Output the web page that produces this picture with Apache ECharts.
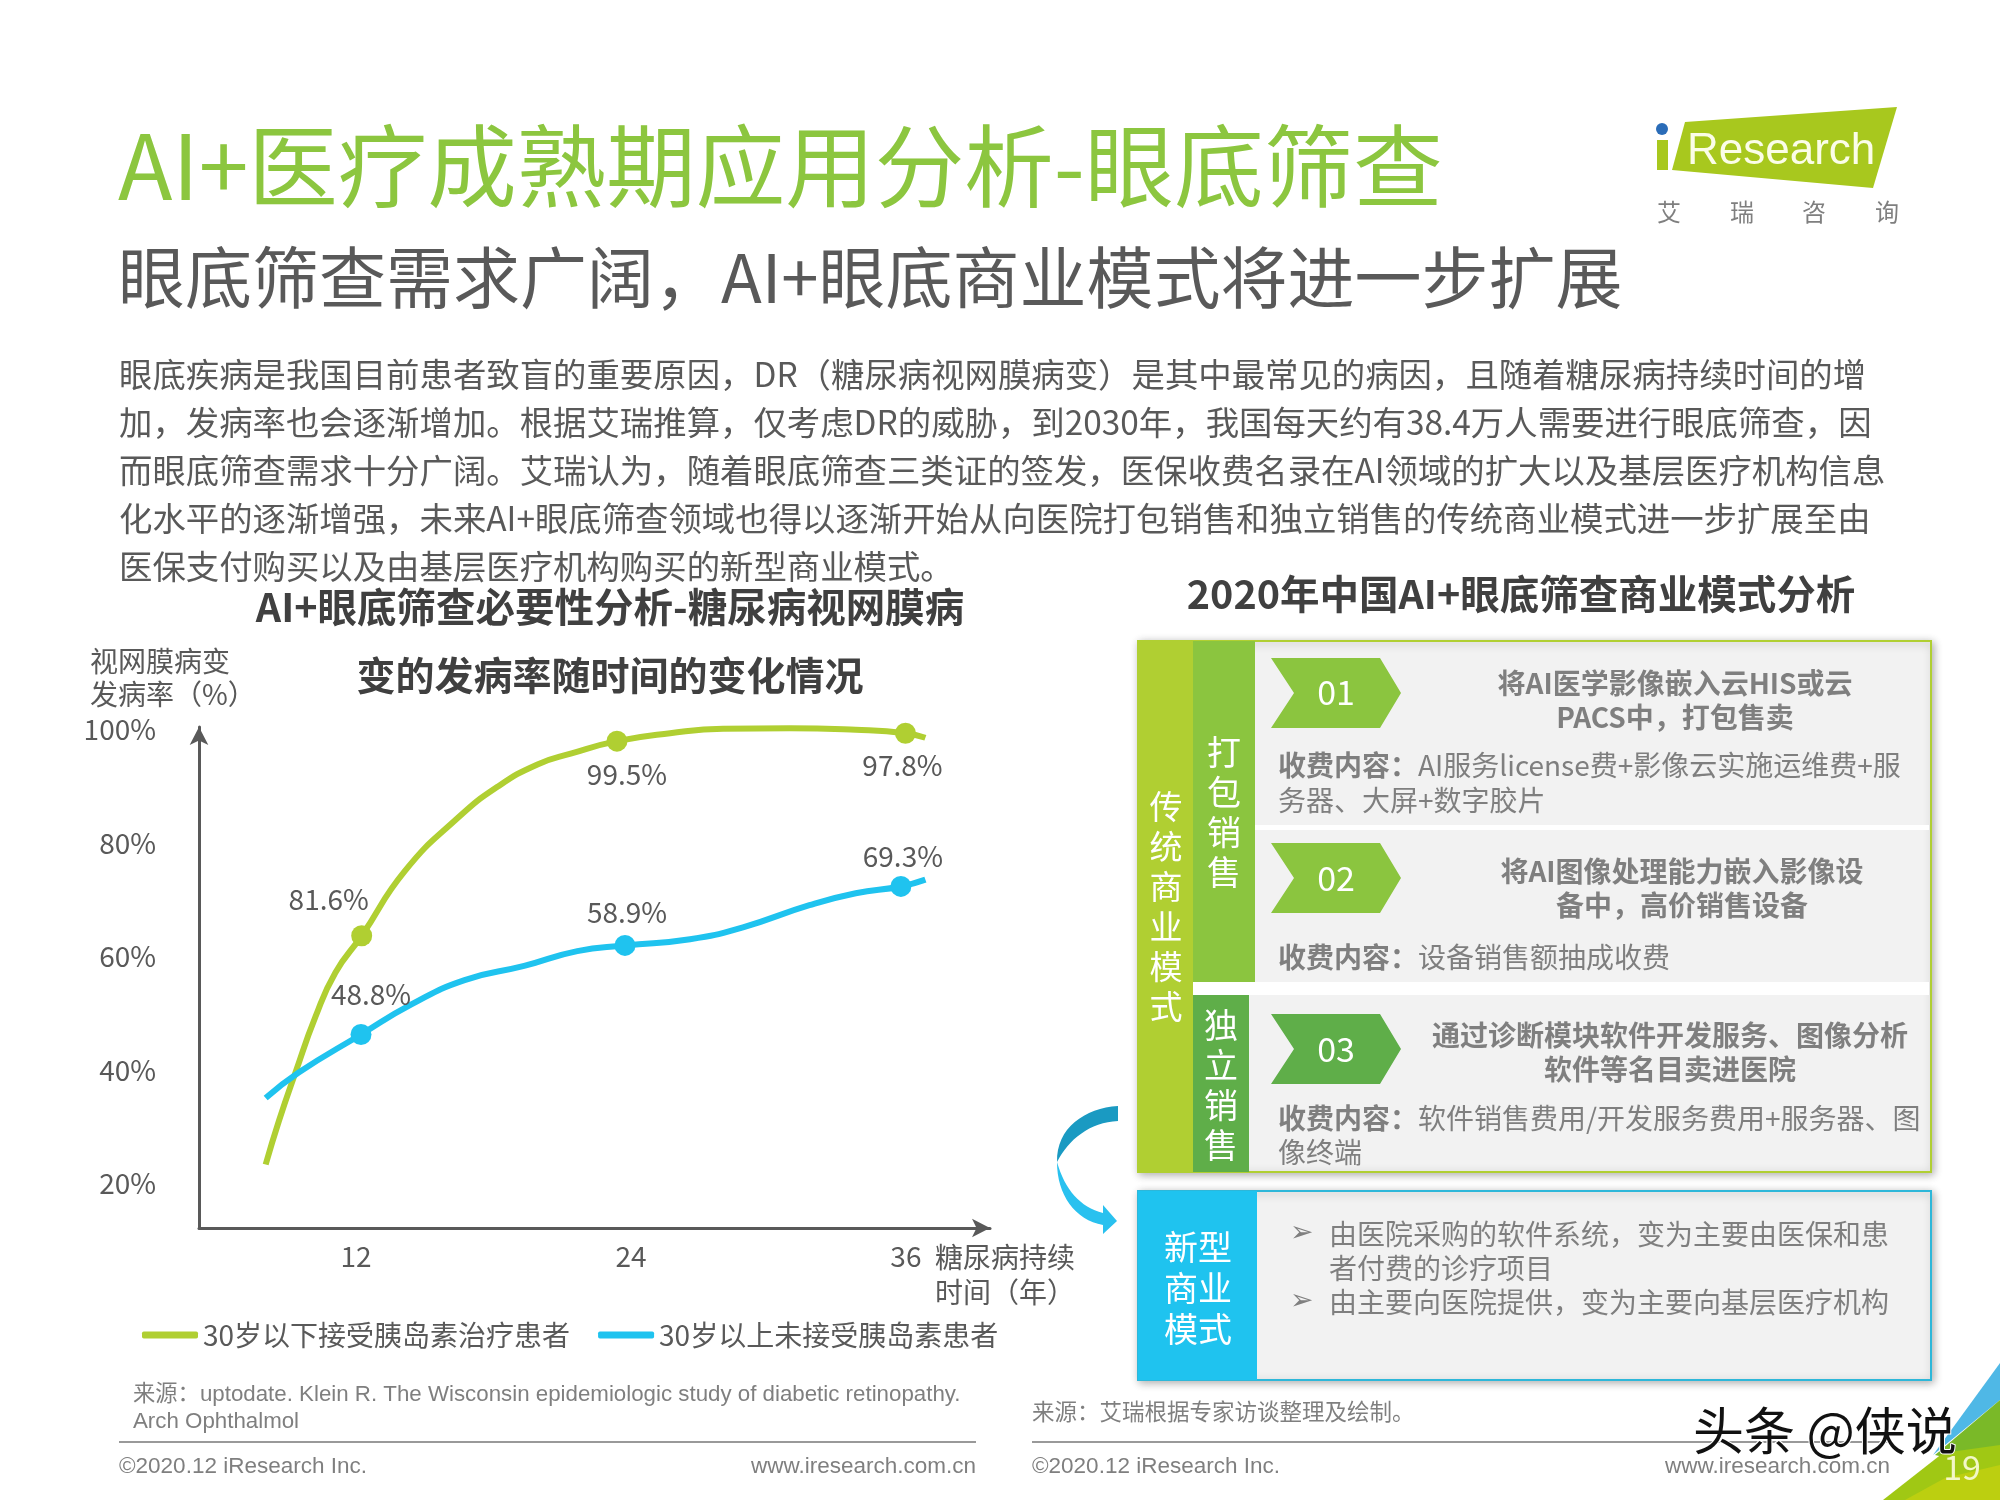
<!DOCTYPE html>
<html>
<head>
<meta charset="utf-8">
<script src="https://cdn.jsdelivr.net/npm/echarts@6/dist/echarts.min.js"></script>
<style>
html, body { margin: 0; padding: 0; background: #fff; }
#main { width: 2000px; height: 1500px; }
</style>
</head>
<body>
<div id="main"></div>
<script>
// curve; y follows the drawn axis, the printed labels are separate
const xTicks = [12, 24, 36];
const yTicks = [20, 40, 60, 80, 100];
const seriesNames = ['30岁以下接受胰岛素治疗患者', '30岁以上未接受胰岛素患者'];

const greenMonths = [8.06, 8.64, 9.36, 10.23, 11.1, 12.25, 14.13, 16.45, 18.19, 19.92, 21.37, 23.39, 25.71, 28.02, 30.92, 33.81, 35.98, 36.85];
const greenRates = [23.4, 31.1, 39.6, 49.4, 57.2, 63.7, 75.1, 84.5, 90.0, 93.9, 95.8, 98.0, 99.4, 100.2, 100.3, 100.0, 99.4, 98.6];
const greenMarkers = [5, 11, 16];
const greenLabels = ['81.6%', '99.5%', '97.8%'];

const blueMonths = [8.06, 9.5, 12.22, 14.42, 16.74, 19.34, 21.66, 23.74, 26.58, 28.89, 31.79, 33.81, 35.78, 36.85];
const blueRates = [35.1, 39.6, 46.3, 51.6, 55.9, 58.4, 61.0, 62.0, 63.1, 65.2, 69.1, 71.2, 72.4, 73.6];
const blueMarkers = [2, 7, 12];
const blueLabels = ['48.8%', '58.9%', '69.3%'];

const bodyLines = [
  '眼底疾病是我国目前患者致盲的重要原因，DR（糖尿病视网膜病变）是其中最常见的病因，且随着糖尿病持续时间的增',
  '加，发病率也会逐渐增加。根据艾瑞推算，仅考虑DR的威胁，到2030年，我国每天约有38.4万人需要进行眼底筛查，因',
  '而眼底筛查需求十分广阔。艾瑞认为，随着眼底筛查三类证的签发，医保收费名录在AI领域的扩大以及基层医疗机构信息',
  '化水平的逐渐增强，未来AI+眼底筛查领域也得以逐渐开始从向医院打包销售和独立销售的传统商业模式进一步扩展至由',
  '医保支付购买以及由基层医疗机构购买的新型商业模式。'
];

const GREEN = '#b0cf32', BLUE = '#1fc3ef', GREY = '#595959', SOFT = '#7f7f7f';
const CJK = '"Noto Sans CJK SC", "Noto Sans", sans-serif';
const ARIAL = '"Liberation Sans", Arial, sans-serif';

function pts(months, rates, markers, labels, offsets) {
  return months.map((m, i) => {
    const k = markers.indexOf(i);
    if (k < 0) return { value: [m, rates[i]], symbol: 'none' };
    return {
      value: [m, rates[i]],
      symbol: 'circle',
      symbolSize: 21,
      label: { show: true, position: 'inside', formatter: labels[k], offset: offsets[k], color: GREY, fontSize: 28, fontFamily: CJK }
    };
  });
}

function txt(x, y, text, size, fill, extra) {
  return {
    type: 'text',
    z: 20,
    style: Object.assign({ x, y, text, fontSize: size, fill, fontFamily: CJK, textAlign: 'left', textVerticalAlign: 'middle', verticalAlign: 'middle' }, extra || {})
  };
}
function box(x, y, w, h, fill, extra) {
  return Object.assign({ type: 'rect', z: 5, shape: { x, y, width: w, height: h }, style: { fill } }, extra || {});
}
function poly(points, fill, z) {
  return { type: 'polygon', z: z || 6, shape: { points }, style: { fill } };
}
function chevron(y, fill) {
  return poly([[1271, y], [1380, y], [1401, y + 35], [1380, y + 70], [1271, y + 70], [1294, y + 35]], fill);
}
function fee(y, s) {
  return txt(1278, y, '{b|收费内容：}' + s, 28, SOFT, {
    rich: { b: { fontWeight: 'bold', fontSize: 28, fill: SOFT, fontFamily: CJK } }
  });
}
function column(x, y, s, size, gap) {
  return txt(x, y, s.split('').join('\n'), size, '#fff', { textAlign: 'center', lineHeight: gap });
}
// outline of the curved arrow band, walked along one cubic
function curve(p0, p1, p2, p3) {
  const out = [];
  for (let i = 0; i <= 16; i++) {
    const t = i / 16, u = 1 - t;
    out.push([
      u * u * u * p0[0] + 3 * u * u * t * p1[0] + 3 * u * t * t * p2[0] + t * t * t * p3[0],
      u * u * u * p0[1] + 3 * u * u * t * p1[1] + 3 * u * t * t * p2[1] + t * t * t * p3[1]
    ]);
  }
  return out;
}

const mid = { textAlign: 'center' };
const midBold = { textAlign: 'center', fontWeight: 'bold' };

const arrowTop = curve([1118, 1106], [1085, 1108], [1056, 1128], [1057, 1162])
  .concat(curve([1057, 1162], [1068, 1140], [1090, 1122], [1118, 1121]));
const arrowLow = curve([1057, 1162], [1057, 1195], [1075, 1220], [1103, 1225])
  .concat([[1103, 1234], [1117, 1221], [1103, 1205]])
  .concat(curve([1103, 1213], [1080, 1207], [1065, 1190], [1057, 1162]));

const graphics = [
  // heading
  txt(118, 166, 'AI+医疗成熟期应用分析-眼底筛查', 89.5, '#8cc63f'),
  txt(118, 278, '眼底筛查需求广阔，AI+眼底商业模式将进一步扩展', 67, GREY),
  // logo
  poly([[1685, 122], [1897, 107], [1873, 188], [1672, 170]], '#a8c81e'),
  box(1657, 140, 11, 30, '#a8c81e'),
  { type: 'circle', z: 6, shape: { cx: 1662, cy: 129, r: 6 }, style: { fill: '#2a6cb8' } },
  txt(1687, 152, 'Research', 44, '#fbfde8', { fontFamily: ARIAL }),
  txt(1669, 212, '艾', 24, SOFT, mid), txt(1742, 212, '瑞', 24, SOFT, mid),
  txt(1814, 212, '咨', 24, SOFT, mid), txt(1887, 212, '询', 24, SOFT, mid),
  // left chart titles
  txt(610, 607, 'AI+眼底筛查必要性分析-糖尿病视网膜病', 39.5, '#404040', midBold),
  txt(610, 675, '变的发病率随时间的变化情况', 39, '#404040', midBold),
  txt(90, 661, '视网膜病变', 28, GREY),
  txt(90, 694, '发病率（%）', 28, GREY),
  // right panel
  txt(1521, 594, '2020年中国AI+眼底筛查商业模式分析', 39.5, '#404040', midBold),
  box(1138, 641, 793, 531, '#f2f2f2', { style: { fill: '#f2f2f2', stroke: '#b0cf32', lineWidth: 2, shadowBlur: 8, shadowColor: 'rgba(0,0,0,0.3)', shadowOffsetX: 2, shadowOffsetY: 2 } }),
  box(1138, 641, 55, 531, GREEN),
  box(1193, 641, 62, 341, '#8bc53f'),
  box(1193, 982, 736, 13, '#fff'),
  box(1193, 995, 56, 177, '#5fae49'),
  box(1255, 825, 674, 5, '#fff'),
  chevron(658, '#8bc53f'), chevron(843, '#8bc53f'), chevron(1014, '#5fae49'),
  txt(1336, 692, '01', 34, '#fff', mid), txt(1336, 878, '02', 34, '#fff', mid), txt(1336, 1049, '03', 34, '#fff', mid),
  column(1166, 906, '传统商业模式', 33, 40),
  column(1224, 812, '打包销售', 34, 40),
  column(1221, 1085, '独立销售', 34, 40),
  txt(1675, 683, '将AI医学影像嵌入云HIS或云', 28, SOFT, midBold),
  txt(1675, 717, 'PACS中，打包售卖', 28, SOFT, midBold),
  fee(765, 'AI服务license费+影像云实施运维费+服'),
  txt(1278, 800, '务器、大屏+数字胶片', 28, SOFT),
  txt(1682, 871, '将AI图像处理能力嵌入影像设', 28, SOFT, midBold),
  txt(1682, 905, '备中，高价销售设备', 28, SOFT, midBold),
  fee(957, '设备销售额抽成收费'),
  txt(1670, 1035, '通过诊断模块软件开发服务、图像分析', 28, SOFT, midBold),
  txt(1670, 1069, '软件等名目卖进医院', 28, SOFT, midBold),
  fee(1118, '软件销售费用/开发服务费用+服务器、图'),
  txt(1278, 1152, '像终端', 28, SOFT),
  // new model box
  box(1138, 1191, 793, 189, '#f2f2f2', { style: { fill: '#f2f2f2', stroke: '#2db7d9', lineWidth: 2, shadowBlur: 8, shadowColor: 'rgba(0,0,0,0.3)', shadowOffsetX: 2, shadowOffsetY: 2 } }),
  box(1138, 1191, 119, 189, BLUE),
  txt(1198, 1288, '新型\n商业\n模式', 34, '#fff', { textAlign: 'center', lineHeight: 41 }),
  txt(1290, 1234, '➢', 28, SOFT, { fontFamily: '"DejaVu Sans"' }),
  txt(1329, 1234, '由医院采购的软件系统，变为主要由医保和患', 28, SOFT),
  txt(1329, 1268, '者付费的诊疗项目', 28, SOFT),
  txt(1290, 1302, '➢', 28, SOFT, { fontFamily: '"DejaVu Sans"' }),
  txt(1329, 1302, '由主要向医院提供，变为主要向基层医疗机构', 28, SOFT),
  // curved arrow
  poly(arrowTop, '#1a9ac2'),
  poly(arrowLow, '#29c1ef'),
  // sources and footers
  txt(133, 1395, '来源：uptodate. Klein R. The Wisconsin epidemiologic study of diabetic retinopathy.', 22.3, SOFT, { fontFamily: ARIAL + ', ' + CJK }),
  txt(133, 1422, 'Arch Ophthalmol', 22.3, SOFT, { fontFamily: ARIAL }),
  txt(1032, 1411, '来源：艾瑞根据专家访谈整理及绘制。', 22.5, SOFT),
  box(119, 1441, 857, 2, '#999'),
  box(1032, 1441, 860, 2, '#999'),
  txt(119, 1467, '©2020.12 iResearch Inc.', 22.5, SOFT, { fontFamily: ARIAL }),
  txt(976, 1467, 'www.iresearch.com.cn', 22.5, SOFT, { fontFamily: ARIAL, textAlign: 'right' }),
  txt(1032, 1467, '©2020.12 iResearch Inc.', 22.5, SOFT, { fontFamily: ARIAL }),
  txt(1890, 1467, 'www.iresearch.com.cn', 22.5, SOFT, { fontFamily: ARIAL, textAlign: 'right' }),
  // corner
  poly([[2000, 1363], [1933, 1455], [2000, 1400]], '#4fb8e6'),
  poly([[2000, 1400], [1935, 1455], [2000, 1470]], '#7ab928'),
  poly([[1883, 1500], [1943, 1453], [2000, 1445], [2000, 1500]], '#a0c814'),
  poly([[1905, 1500], [1945, 1478], [2000, 1465], [2000, 1500]], '#bccf10'),
  txt(1962, 1467, '19', 34, '#f2f7c8', mid),
  // watermark
  Object.assign(txt(1693, 1431, '头条 @侠说', 51, '#111', { stroke: '#fff', lineWidth: 2 }), { z: 30 })
];

bodyLines.forEach((line, i) => {
  graphics.push(txt(119, 374 + i * 48, line, 33.4, GREY));
});

const chart = echarts.init(document.getElementById('main'), null, { renderer: 'canvas' });
chart.setOption({
  animation: false,
  backgroundColor: '#fff',
  textStyle: { fontFamily: CJK },
  grid: { left: 199, right: 1010, top: 727, bottom: 272 },
  legend: {
    left: 137,
    top: 1316,
    icon: 'roundRect',
    itemWidth: 56,
    itemHeight: 7,
    itemGap: 28,
    textStyle: { fontSize: 28, color: GREY, fontFamily: CJK },
    data: seriesNames
  },
  xAxis: {
    type: 'value',
    min: 5.15,
    max: 39.67,
    name: '糖尿病持续\n时间（年）',
    nameLocation: 'end',
    nameGap: -55,
    nameTextStyle: { fontSize: 28, color: GREY, align: 'left', verticalAlign: 'top', lineHeight: 35, padding: [12, 0, 0, 0] },
    axisLine: { onZero: false, lineStyle: { color: GREY, width: 3 }, symbol: ['none', 'arrow'], symbolSize: [14, 18] },
    axisTick: { show: false },
    splitLine: { show: false },
    axisLabel: { customValues: xTicks, margin: 14, fontSize: 28, color: GREY, fontFamily: CJK }
  },
  yAxis: {
    type: 'value',
    min: 12.2,
    max: 100.5,
    axisLine: { show: true, onZero: false, lineStyle: { color: GREY, width: 3 }, symbol: ['none', 'arrow'], symbolSize: [14, 18] },
    axisTick: { show: false },
    splitLine: { show: false },
    axisLabel: { customValues: yTicks, margin: 43, fontSize: 28, color: GREY, fontFamily: CJK, formatter: '{value}%' }
  },
  series: [
    {
      name: seriesNames[0],
      type: 'line',
      smooth: 0.5,
      clip: false,
      showAllSymbol: true,
      color: GREEN,
      lineStyle: { width: 6, color: GREEN },
      data: pts(greenMonths, greenRates, greenMarkers, greenLabels, [[-33, -36], [10, 33], [-3, 32]])
    },
    {
      name: seriesNames[1],
      type: 'line',
      smooth: 0.5,
      clip: false,
      showAllSymbol: true,
      color: BLUE,
      lineStyle: { width: 6, color: BLUE },
      data: pts(blueMonths, blueRates, blueMarkers, blueLabels, [[10, -40], [2, -33], [2, -30]])
    }
  ],
  graphic: { elements: graphics }
});
</script>
</body>
</html>
